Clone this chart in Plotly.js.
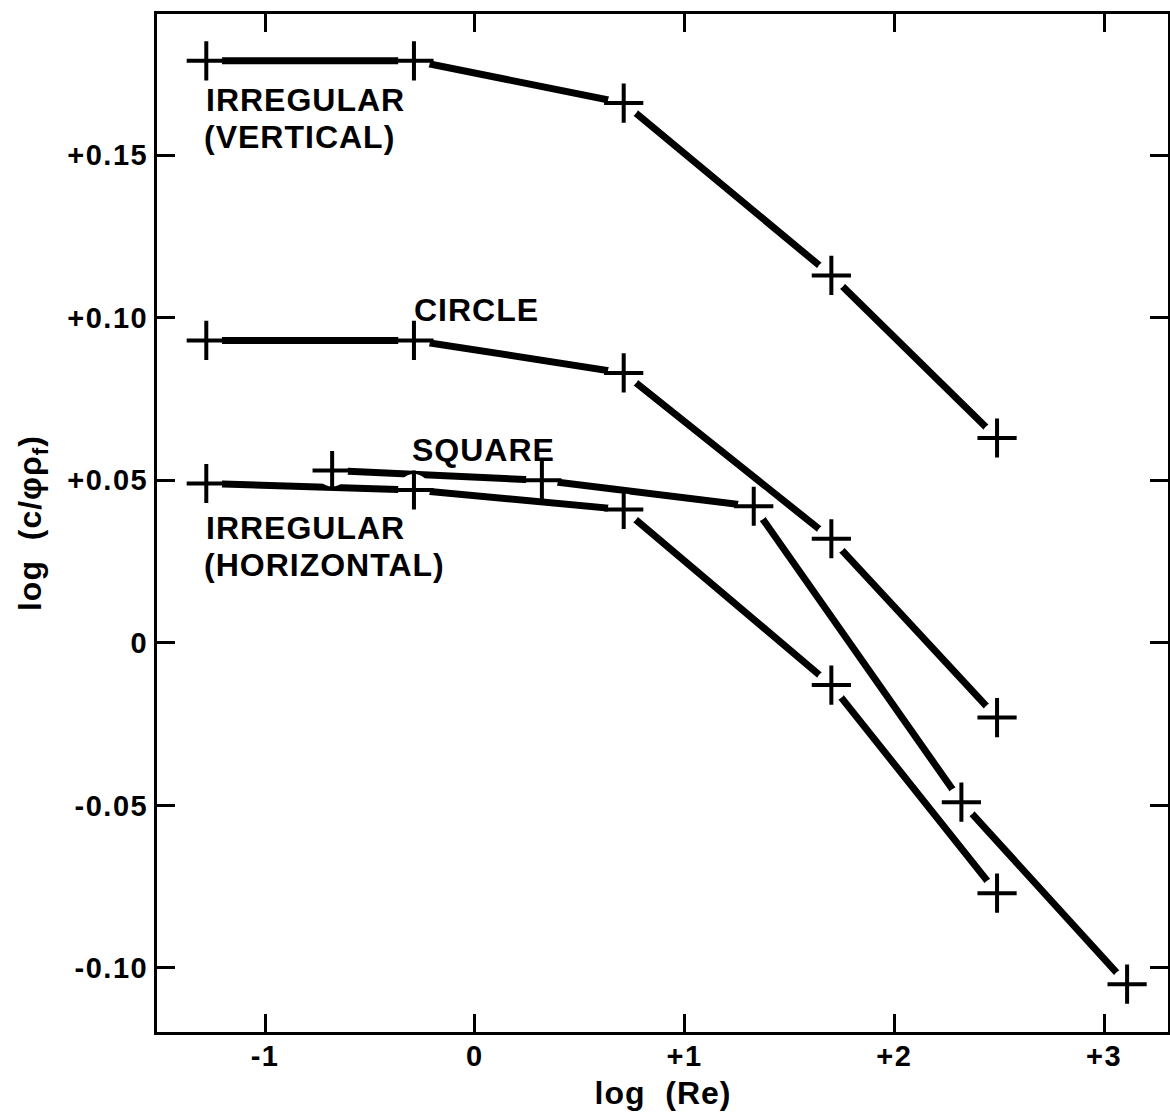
<!DOCTYPE html>
<html>
<head>
<meta charset="utf-8">
<script src="https://cdn.plot.ly/plotly-3.0.1.min.js"></script>
<style>
  html, body { margin: 0; padding: 0; background: #fff; }
  #chart { width: 1170px; height: 1119px; }
  #chart .annotation-text { letter-spacing: 1px; }
  #chart .xtick text, #chart .ytick text { letter-spacing: 1.5px; }
</style>
</head>
<body>
<div id="chart"></div>
<script>
// log(Re) positions
const xMain = [-1.28, -0.29, 0.71, 1.70, 2.49];
const xSquare = [-0.68, 0.32, 1.33, 2.32, 3.11];

// log(c / phi rho_f) values
const yIrregVertical = [0.179, 0.179, 0.166, 0.113, 0.063];
const yCircle = [0.093, 0.093, 0.083, 0.032, -0.023];
const ySquare = [0.053, 0.050, 0.042, -0.049, -0.105];
const yIrregHorizontal = [0.049, 0.047, 0.041, -0.013, -0.077];

const xTickVals = [-1, 0, 1, 2, 3];
const xTickText = ['-1', '0', '+1', '+2', '+3'];
const yTickVals = [0.15, 0.10, 0.05, 0, -0.05, -0.10];
const yTickText = ['+0.15', '+0.10', '+0.05', '0', '-0.05', '-0.10'];

const seriesList = [
  {name: 'IRREGULAR (VERTICAL)', x: xMain, y: yIrregVertical},
  {name: 'CIRCLE', x: xMain, y: yCircle},
  {name: 'SQUARE', x: xSquare, y: ySquare},
  {name: 'IRREGULAR (HORIZONTAL)', x: xMain, y: yIrregHorizontal}
];

const FONT = 'Liberation Sans, Arial, sans-serif';
const traces = [];
seriesList.forEach(s => {
  traces.push({x: s.x, y: s.y, mode: 'lines', type: 'scatter', name: s.name,
    line: {color: '#000', width: 7}, hoverinfo: 'skip', showlegend: false});
});
seriesList.forEach(s => {
  traces.push({x: s.x, y: s.y, mode: 'markers', type: 'scatter', showlegend: false,
    marker: {symbol: 'circle', size: 32, color: '#fff', line: {width: 0}}, hoverinfo: 'skip'});
});
seriesList.forEach(s => {
  traces.push({x: s.x, y: s.y, mode: 'markers', type: 'scatter', showlegend: false,
    marker: {symbol: 'cross-thin-open', size: 28, color: '#000', line: {width: 4, color: '#000'}}});
});

const labelFont = {family: FONT, size: 32, color: '#000', weight: 'bold'};
function lab(x, y, t) {
  return {xref: 'x', yref: 'y', x: x, y: y, text: t, align: 'left',
    xanchor: 'left', yanchor: 'middle', showarrow: false, font: labelFont};
}
const layout = {
  width: 1170, height: 1119,
  margin: {l: 157, r: 2, t: 14, b: 87},
  paper_bgcolor: '#fff', plot_bgcolor: '#fff',
  showlegend: false,
  xaxis: {
    range: [-1.515, 3.305], tickvals: xTickVals, ticktext: xTickText,
    ticks: 'inside', ticklen: 18, tickwidth: 3, tickcolor: '#000',
    showline: true, linewidth: 3, linecolor: '#000', mirror: 'ticks',
    showgrid: false, zeroline: false,
    tickfont: {family: FONT, size: 29, color: '#000', weight: 'bold'},
    ticklabelstandoff: -4
  },
  yaxis: {
    range: [-0.1197, 0.1934], tickvals: yTickVals, ticktext: yTickText,
    ticks: 'inside', ticklen: 18, tickwidth: 3, tickcolor: '#000',
    showline: true, linewidth: 3, linecolor: '#000', mirror: 'ticks',
    showgrid: false, zeroline: false,
    tickfont: {family: FONT, size: 29, color: '#000', weight: 'bold'},
    ticklabelstandoff: 0
  },
  annotations: [
    {xref: 'paper', yref: 'paper', x: -0.1236, xanchor: 'center', y: 0.500, yanchor: 'middle',
     text: 'log  (c/φρ<sub>f</sub>)',
     textangle: -90, showarrow: false, font: {family: FONT, size: 32, color: '#000', weight: 'bold'}},
    {xref: 'paper', yref: 'paper', x: 0.5, xanchor: 'center', y: -0.060, yanchor: 'middle',
     text: 'log  (Re)', showarrow: false, font: {family: FONT, size: 32, color: '#000', weight: 'bold'}},
    lab(-1.29, 0.1669, 'IRREGULAR'),
    lab(-1.30, 0.1555, '(VERTICAL)'),
    lab(-0.30, 0.1025, 'CIRCLE'),
    lab(-0.31, 0.0592, 'SQUARE'),
    lab(-1.29, 0.0352, 'IRREGULAR'),
    lab(-1.30, 0.0240, '(HORIZONTAL)')
  ]
};

Plotly.newPlot('chart', traces, layout, {displayModeBar: false, staticPlot: true});
</script>
</body>
</html>
